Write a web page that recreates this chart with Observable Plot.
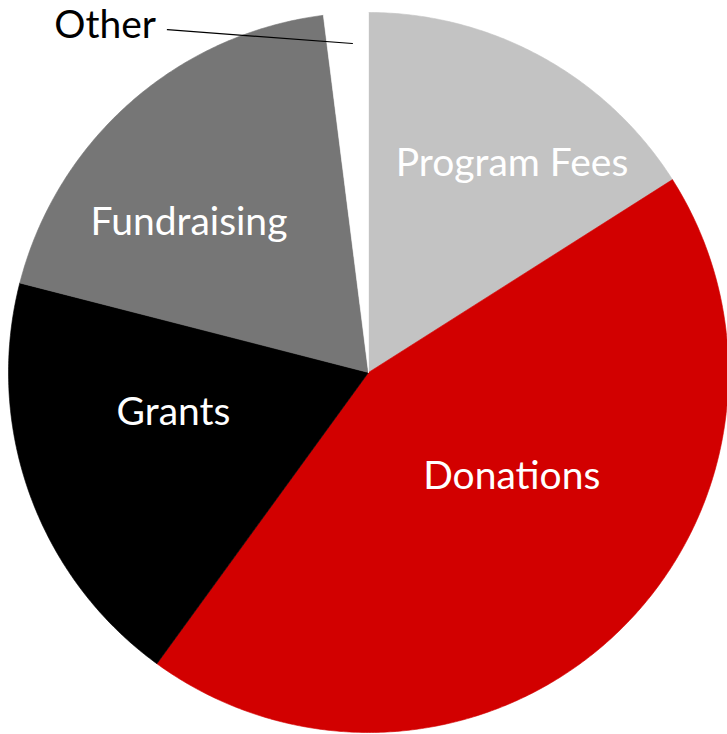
<!DOCTYPE html>
<html>
<head>
<meta charset="utf-8">
<script src="https://cdn.jsdelivr.net/npm/d3@7"></script>
<script src="https://cdn.jsdelivr.net/npm/@observablehq/plot@0.6"></script>
<style>
  html, body { margin: 0; padding: 0; background: #ffffff; }
  #chart svg { display: block; }
</style>
</head>
<body>
<div id="chart"></div>
<script>
// ---- data ----
const categories = ["Program Fees", "Donations", "Grants", "Fundraising", "Other"];
const values = [16, 44, 19, 19, 2];
const sliceColors = ["#c3c3c3", "#d20000", "#000000", "#767676", "#ffffff"];

// ---- label layout (angle in degrees clockwise from 12 o'clock, radius as fraction of pie radius) ----
const labelLayout = {
  "Program Fees": [34.5, 0.704],
  "Donations": [126, 0.492],
  "Grants": [258.4, 0.553],
  "Fundraising": [309.9, 0.65],
  "Other": [322.8, 1.21]
};
const leaderLayout = [[329.6, 1.104], [357.2, 0.915]];

// ---- geometry from values ----
const rad = (deg) => deg * Math.PI / 180;
const polar = (deg, r) => ({x: r * Math.sin(rad(deg)), y: r * Math.cos(rad(deg))});
const total = d3.sum(values);
let acc = 0;
const slices = categories.map((name, i) => {
  const a0 = acc / total * 360;
  acc += values[i];
  const a1 = acc / total * 360;
  return {name, a0, a1};
});
const points = [];
for (const s of slices) {
  points.push({name: s.name, x: 0, y: 0});
  const n = Math.max(2, Math.ceil((s.a1 - s.a0) / 0.5));
  for (let k = 0; k <= n; k++) {
    const p = polar(s.a0 + (s.a1 - s.a0) * k / n, 1);
    points.push({name: s.name, x: p.x, y: p.y});
  }
  points.push({name: s.name, x: 0, y: 0});
}
const labels = categories.map((name) => {
  const [a, r] = labelLayout[name];
  const p = polar(a, r);
  return {name, x: p.x, y: p.y};
});
const leader = leaderLayout.map(([a, r]) => polar(a, r));

const chart = Plot.plot({
  width: 727,
  height: 734,
  margin: 0,
  style: {background: "#ffffff"},
  x: {domain: [-1, 1], range: [8, 728], axis: null},
  y: {domain: [-1, 1], range: [732, 12], axis: null},
  color: {domain: categories, range: sliceColors},
  marks: [
    Plot.line(points, {x: "x", y: "y", z: "name", fill: "name", stroke: "name", strokeWidth: 0.6, curve: "linear"}),
    Plot.line(leader, {x: "x", y: "y", stroke: "#000000", strokeWidth: 1.2}),
    Plot.text(labels.filter(d => d.name !== "Other"), {
      x: "x", y: "y", text: "name", fill: "#ffffff",
      fontSize: 39, fontFamily: "Lato", textAnchor: "middle", lineAnchor: "middle"
    }),
    Plot.text(labels.filter(d => d.name === "Other"), {
      x: "x", y: "y", text: "name", fill: "#000000",
      fontSize: 39, fontFamily: "Lato", textAnchor: "middle", lineAnchor: "middle"
    })
  ]
});
document.getElementById("chart").appendChild(chart);
</script>
</body>
</html>
